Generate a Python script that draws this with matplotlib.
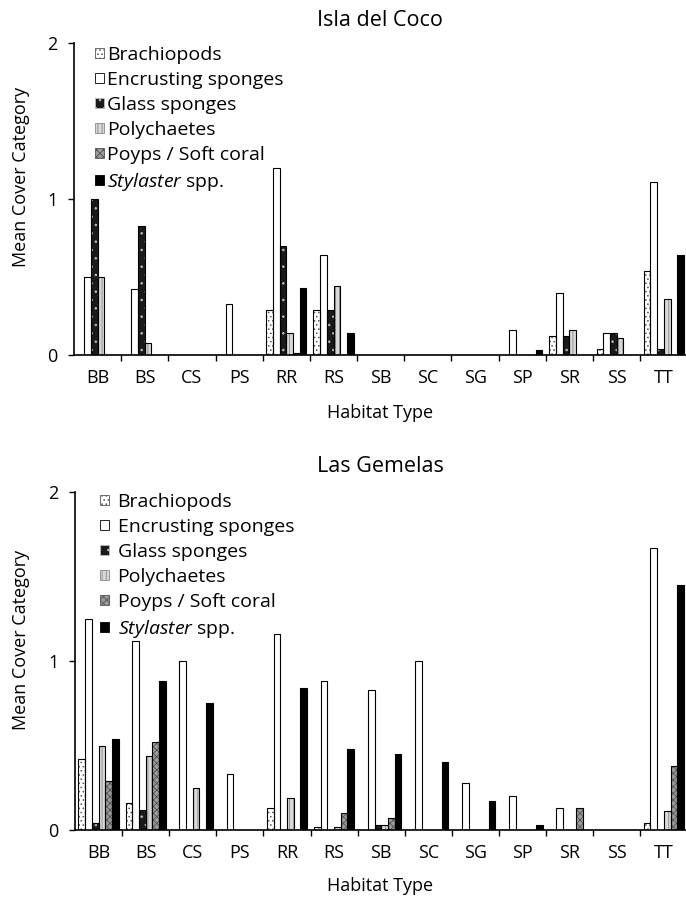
import matplotlib
matplotlib.use("Agg")
import numpy as np
import matplotlib.pyplot as plt
from matplotlib.patches import Patch

plt.rcParams['font.family'] = ['Open Sans', 'DejaVu Sans']
plt.rcParams['mathtext.fontset'] = 'custom'
plt.rcParams['mathtext.it'] = 'Open Sans:italic'
plt.rcParams['mathtext.rm'] = 'Open Sans'
plt.rcParams['hatch.linewidth'] = 0.6

habitats = ['BB', 'BS', 'CS', 'PS', 'RR', 'RS', 'SB', 'SC', 'SG', 'SP', 'SR', 'SS', 'TT']
groups = ['Brachiopods', 'Encrusting sponges', 'Glass sponges', 'Polychaetes',
          'Poyps / Soft coral', 'Stylaster spp.']

# Isla del Coco
coco_brach = [0, 0, 0, 0, 0.29, 0.29, 0, 0, 0, 0, 0.12, 0.04, 0.54]
coco_encr = [0.50, 0.42, 0, 0.33, 1.20, 0.64, 0, 0, 0, 0.16, 0.40, 0.14, 1.11]
coco_glass = [1.00, 0.83, 0, 0, 0.70, 0.29, 0, 0, 0, 0, 0.12, 0.14, 0.04]
coco_poly = [0.50, 0.08, 0, 0, 0.14, 0.44, 0, 0, 0, 0, 0.16, 0.11, 0.36]
coco_polyp = [0, 0, 0, 0, 0.01, 0, 0, 0, 0, 0, 0, 0, 0]
coco_styl = [0, 0, 0, 0, 0.43, 0.14, 0, 0, 0, 0.03, 0, 0, 0.64]

# Las Gemelas
gem_brach = [0.42, 0.16, 0, 0, 0.13, 0.02, 0, 0, 0, 0, 0, 0, 0.04]
gem_encr = [1.25, 1.12, 1.00, 0.33, 1.16, 0.88, 0.83, 1.00, 0.28, 0.20, 0.13, 0, 1.67]
gem_glass = [0.04, 0.12, 0, 0, 0, 0, 0.03, 0, 0, 0, 0, 0, 0]
gem_poly = [0.50, 0.44, 0.25, 0, 0.19, 0.02, 0.03, 0, 0, 0, 0, 0, 0.11]
gem_polyp = [0.29, 0.52, 0, 0, 0, 0.10, 0.07, 0, 0, 0, 0.13, 0, 0.38]
gem_styl = [0.54, 0.88, 0.75, 0, 0.84, 0.48, 0.45, 0.40, 0.17, 0.03, 0, 0, 1.45]

# (facecolor, hatch, hatch colour)
styles = [('white', '....', '#555555'),
          ('white', None, None),
          ('#1a1a1a', '..', '#bbbbbb'),
          ('#d8d8d8', '||||', '#888888'),
          ('#9a9a9a', 'xxxxx', '#555555'),
          ('black', None, None)]

fig = plt.figure(figsize=(6.86, 8.99), dpi=100)
W, H = 686.0, 899.0


def panel(ax, series, ylab_y, legend_pad, legend_xy):
    x = np.arange(len(habitats))
    w = 0.142
    handles = []
    for i, vals in enumerate(series):
        fc, hatch, hc = styles[i]
        pos = x + (i - 2.5) * w
        if hatch:
            ax.bar(pos, vals, w, color=fc, edgecolor=hc, hatch=hatch, linewidth=0, zorder=2)
        else:
            ax.bar(pos, vals, w, color=fc, linewidth=0, zorder=2)
        ax.bar(pos, vals, w, fill=False, edgecolor='black', linewidth=0.8, zorder=3)
        handles.append(Patch(facecolor=fc, edgecolor=hc if hatch else 'black',
                             hatch=hatch, linewidth=0.6))
    ax.set_xlim(-0.5, 12.47)
    ax.set_ylim(0, 2)
    ax.set_yticks([0, 1, 2])
    ax.set_xticks(x)
    ax.set_xticklabels(habitats, fontsize=13)
    ax.set_xticks(np.arange(0.5, 12, 1), minor=True)
    ax.tick_params(axis='x', which='major', length=0, pad=10)
    ax.tick_params(axis='x', which='minor', length=4, width=1, direction='out')
    ax.tick_params(axis='y', length=4, width=1, labelsize=13, pad=8)
    ax.spines['top'].set_visible(False)
    ax.spines['right'].set_visible(False)
    ax.spines['left'].set_linewidth(1.2)
    ax.spines['bottom'].set_linewidth(1.2)
    labels = groups[:5] + ['$\\it{Stylaster}$ spp.']
    ax.legend(handles, labels, loc='upper left', frameon=False,
              bbox_to_anchor=legend_xy, bbox_transform=fig.transFigure,
              fontsize=14, handlelength=0.45, handleheight=0.45,
              handletextpad=legend_pad, labelspacing=0.36, borderaxespad=0,
              borderpad=0)
    fig.text(21 / W, 1 - ylab_y / H, 'Mean Cover Category', rotation=90,
             ha='center', va='center', fontsize=13)


ax1 = fig.add_axes([74 / W, 1 - 355 / H, 612 / W, 312 / H])
panel(ax1, [coco_brach, coco_encr, coco_glass, coco_poly, coco_polyp, coco_styl],
      177, 0.15, (95 / W, 1 - 46 / H))
fig.text(380 / W, 1 - 20 / H, 'Isla del Coco', ha='center', va='center', fontsize=15.5)
fig.text(380 / W, 1 - 413 / H, 'Habitat Type', ha='center', va='center', fontsize=13)

ax2 = fig.add_axes([75 / W, 1 - 830 / H, 611 / W, 338 / H])
panel(ax2, [gem_brach, gem_encr, gem_glass, gem_poly, gem_polyp, gem_styl],
      640, 0.45, (100 / W, 1 - 493 / H))
fig.text(380 / W, 1 - 466 / H, 'Las Gemelas', ha='center', va='center', fontsize=15.5)
fig.text(380 / W, 1 - 886 / H, 'Habitat Type', ha='center', va='center', fontsize=13)

fig.savefig('out.png', dpi=100)
